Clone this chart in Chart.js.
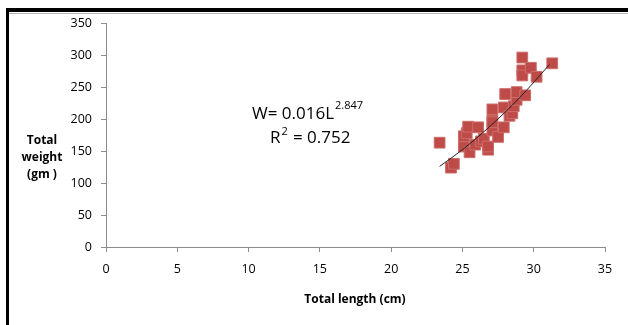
<!DOCTYPE html>
<html>
<head>
<meta charset="utf-8">
<script src="https://cdn.jsdelivr.net/npm/chart.js@4.4.1/dist/chart.umd.min.js"></script>
<style>
    html, body { margin: 0; padding: 0; background: #fff; }
    #wrap { width: 628px; height: 325px; position: relative; }
</style>
</head>
<body>
<div id="wrap"><canvas id="lwChart" width="628" height="325"></canvas></div>
<script>
// === Data ===
const lengthCm = [23.4, 24.2, 24.4, 25.1, 25.1, 25.3, 25.4, 25.5, 25.9, 26.1, 26.3, 26.5,
    26.8, 26.8, 27.1, 27.1, 27.1, 27.1, 27.5, 27.9, 27.9, 28.3, 28.5, 28.6, 28.0, 28.8,
    28.8, 29.4, 29.2, 29.2, 29.2, 29.8, 30.2, 31.3];
const weightGm = [163, 124, 130, 157, 173, 178, 188, 148, 160, 187, 165, 169,
    152, 157, 198, 182, 215, 195, 172, 187, 218, 205, 209, 220, 239, 230,
    242, 237, 296, 276, 268, 280, 266, 287];

// trendline points
const trendX = [23.4, 25, 27, 29, 31.1];
const trendY = [126, 152, 190, 233, 285];

const xTicks = [0, 5, 10, 15, 20, 25, 30, 35];
const yTicks = [0, 50, 100, 150, 200, 250, 300, 350];

const axisFont = { family: "'Open Sans', sans-serif", size: 12.5 };
const axisGray = '#8c8c8c';

// === Frame + labels drawn on the canvas ===
const framePlugin = {
    id: 'frame',
    beforeDraw(chart) {
        const ctx = chart.ctx;
        ctx.save();
        ctx.fillStyle = '#fff';
        ctx.fillRect(0, 0, chart.width, chart.height);
        ctx.fillStyle = '#000';
        ctx.fillRect(6, 8, chart.width - 6, 4);
        ctx.fillRect(6, 8, 3, chart.height - 8);
        ctx.fillStyle = '#b4b4b4';
        ctx.fillRect(9, 13, chart.width - 9, 1);
        ctx.restore();
    },
    afterDraw(chart) {
        const ctx = chart.ctx;
        ctx.save();
        ctx.fillStyle = '#000';
        ctx.textAlign = 'center';
        ctx.textBaseline = 'middle';

        // y title, horizontal, three lines
        ctx.font = "bold 12px 'Open Sans', sans-serif";
        ctx.fillText('Total', 42, 141);
        ctx.fillText('weight', 42, 158);
        ctx.fillText('(gm )', 42, 175);

        // x title
        ctx.fillText('Total length (cm)', 355, 300);

        // equation
        ctx.font = "17px 'Open Sans', sans-serif";
        ctx.textAlign = 'left';
        const eq = 'W= 0.016L';
        ctx.fillText(eq, 252, 114);
        const w = ctx.measureText(eq).width;
        ctx.font = "11px 'Open Sans', sans-serif";
        ctx.fillText('2.847', 252 + w + 1, 106);
        ctx.font = "17px 'Open Sans', sans-serif";
        ctx.fillText('R', 270, 138);
        const rw = ctx.measureText('R').width;
        ctx.font = "11px 'Open Sans', sans-serif";
        ctx.fillText('2', 270 + rw + 1, 132);
        ctx.font = "17px 'Open Sans', sans-serif";
        ctx.fillText(' = 0.752', 270 + rw + 8, 138);
        ctx.restore();
    }
};

const ctx = document.getElementById('lwChart').getContext('2d');
new Chart(ctx, {
    type: 'scatter',
    data: {
        datasets: [{
            label: 'Fish',
            data: lengthCm.map((x, i) => ({ x, y: weightGm[i] })),
            pointStyle: 'rect',
            pointRadius: 7.6,
            backgroundColor: '#be4b48',
            borderColor: '#cc6d6a',
            borderWidth: 1,
            order: 2
        }, {
            label: 'Trend',
            type: 'line',
            data: trendX.map((x, i) => ({ x, y: trendY[i] })),
            borderColor: '#222',
            borderWidth: 1,
            pointRadius: 0,
            cubicInterpolationMode: 'monotone',
            fill: false,
            order: 1
        }]
    },
    options: {
        responsive: false,
        animation: false,
        events: [],
        layout: { padding: { left: 0, top: 23, right: 23, bottom: 0 } },
        plugins: {
            legend: { display: false },
            tooltip: { enabled: false }
        },
        scales: {
            x: {
                type: 'linear',
                min: 0,
                max: 35,
                afterFit: (s) => { s.height = 78; },
                afterBuildTicks: (s) => { s.ticks = xTicks.map(v => ({ value: v })); },
                ticks: { color: '#000', font: axisFont, padding: 10 },
                grid: { drawOnChartArea: false, drawTicks: true, tickLength: 5, color: axisGray },
                border: { color: axisGray }
            },
            y: {
                min: 0,
                max: 350,
                afterFit: (s) => { s.width = 106; },
                afterBuildTicks: (s) => { s.ticks = yTicks.map(v => ({ value: v })); },
                ticks: { color: '#000', font: axisFont, padding: 9 },
                grid: { drawOnChartArea: false, drawTicks: true, tickLength: 5, color: axisGray },
                border: { color: axisGray }
            }
        }
    },
    plugins: [framePlugin]
});
</script>
</body>
</html>
